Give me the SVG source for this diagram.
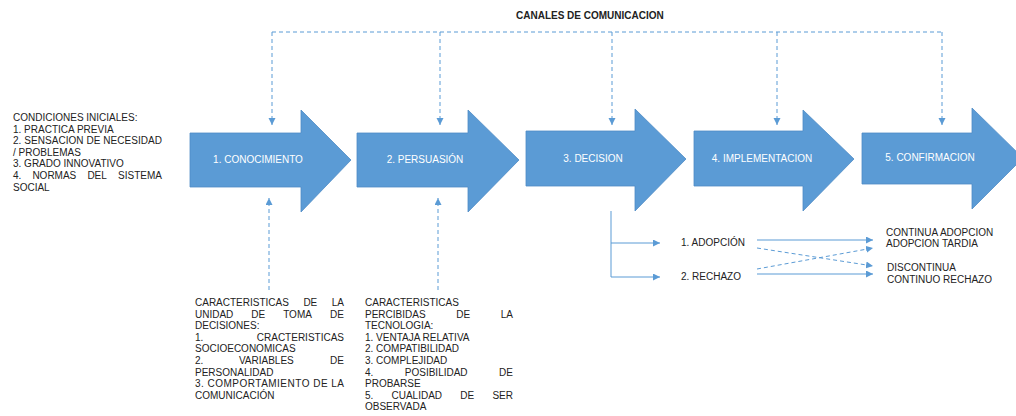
<svg xmlns="http://www.w3.org/2000/svg" width="1016" height="416" viewBox="0 0 1016 416">
<style>
text{font-family:"Liberation Sans",Arial,sans-serif;font-size:10px;fill:#222}
.lbl{fill:#fff;text-anchor:middle}
.ttl{font-weight:bold}
.e{text-anchor:end}
.arr{fill:#5b9bd5;stroke:#4f8cc5;stroke-width:0.8}
.d{fill:none;stroke:#5b9bd5;stroke-width:1;stroke-dasharray:4 3}
.s{fill:none;stroke:#5b9bd5;stroke-width:1}
</style>
<defs>
<marker id="ah" markerUnits="userSpaceOnUse" markerWidth="8" markerHeight="8" refX="7" refY="3.5" orient="auto">
<path d="M0,0 L7,3.5 L0,7 z" fill="#5b9bd5"/>
</marker>
</defs>
<rect width="1016" height="416" fill="#fff"/>

<text class="ttl" x="516" y="19">CANALES DE COMUNICACION</text>

<g id="n1"><path class="arr" d="M190,133 H301 V110 L351,160 L301,212 V187 H190 Z"/><text class="lbl" x="258" y="163">1. CONOCIMIENTO</text></g>
<g id="n2"><path class="arr" d="M357,133 H468 V110 L519,160 L468,212 V187 H357 Z"/><text class="lbl" x="425" y="163">2. PERSUASIÓN</text></g>
<g id="n3"><path class="arr" d="M526,131 H635 V109 L686,159 L635,211 V186 H526 Z"/><text class="lbl" x="593" y="162">3. DECISION</text></g>
<g id="n4"><path class="arr" d="M694,131 H803 V110 L854,159 L803,211 V186 H694 Z"/><text class="lbl" x="762" y="162">4. IMPLEMENTACION</text></g>
<g id="n5"><path class="arr" d="M862,133 H972 V108 L1023,158 L972,209 V184 H862 Z"/><text class="lbl" x="930" y="161">5. CONFIRMACION</text></g>

<g id="cond">
<text x="13" y="121">CONDICIONES INICIALES:</text>
<text x="13" y="132.6">1. PRACTICA PREVIA</text>
<text x="13" y="144.2" textLength="149" lengthAdjust="spacing">2. SENSACION DE NECESIDAD</text>
<text x="13" y="155.8">/ PROBLEMAS</text>
<text x="13" y="167.4">3. GRADO INNOVATIVO</text>
<text x="13" y="179">4.</text><text x="32.4" y="179">NORMAS</text><text x="87.4" y="179">DEL</text><text class="e" x="162" y="179">SISTEMA</text>
<text x="13" y="190.6">SOCIAL</text>
</g>

<g id="unidad">
<text x="195" y="306">CARACTERISTICAS</text><text x="303.4" y="306">DE</text><text class="e" x="344" y="306">LA</text>
<text x="195" y="317.6">UNIDAD</text><text x="251.3" y="317.6">DE</text><text x="283.2" y="317.6">TOMA</text><text class="e" x="344" y="317.6">DE</text>
<text x="195" y="329.2">DECISIONES:</text>
<text x="195" y="340.8">1.</text><text class="e" x="344" y="340.8">CRACTERISTICAS</text>
<text x="195" y="352.4">SOCIOECONOMICAS</text>
<text x="195" y="364">2.</text><text x="238.9" y="364">VARIABLES</text><text class="e" x="344" y="364">DE</text>
<text x="195" y="375.6">PERSONALIDAD</text>
<text x="195" y="387.2" textLength="149" lengthAdjust="spacing">3. COMPORTAMIENTO DE LA</text>
<text x="195" y="398.8">COMUNICACIÓN</text>
</g>

<g id="percibidas">
<text x="365" y="306">CARACTERISTICAS</text>
<text x="365" y="317.6">PERCIBIDAS</text><text x="456.2" y="317.6">DE</text><text class="e" x="513" y="317.6">LA</text>
<text x="365" y="329.2">TECNOLOGIA:</text>
<text x="365" y="340.8">1. VENTAJA RELATIVA</text>
<text x="365" y="352.4">2. COMPATIBILIDAD</text>
<text x="365" y="364">3. COMPLEJIDAD</text>
<text x="365" y="375.6">4.</text><text x="404.8" y="375.6">POSIBILIDAD</text><text class="e" x="513" y="375.6">DE</text>
<text x="365" y="387.2">PROBARSE</text>
<text x="365" y="398.8">5.</text><text x="391.5" y="398.8">CUALIDAD</text><text x="460.3" y="398.8">DE</text><text class="e" x="513" y="398.8">SER</text>
<text x="365" y="410.4">OBSERVADA</text>
</g>

<g id="outcomes">
<text x="681" y="246">1. ADOPCIÓN</text>
<text x="681" y="280">2. RECHAZO</text>
<text x="886" y="236">CONTINUA ADOPCION</text>
<text x="886" y="247">ADOPCION TARDIA</text>
<text x="887" y="271">DISCONTINUA</text>
<text x="887" y="283">CONTINUO RECHAZO</text>
</g>

<g id="connectors">
<path class="d" d="M272,32 H942"/>
<path class="d" d="M272,32 V125" marker-end="url(#ah)"/>
<path class="d" d="M440,32 V125" marker-end="url(#ah)"/>
<path class="d" d="M612,32 V125" marker-end="url(#ah)"/>
<path class="d" d="M777,32 V125" marker-end="url(#ah)"/>
<path class="d" d="M942,32 V125" marker-end="url(#ah)"/>
<path class="d" d="M269,290 V198" marker-end="url(#ah)"/>
<path class="d" d="M438,290 V198" marker-end="url(#ah)"/>
<path class="s" d="M611,211 V277"/>
<path class="s" d="M611,243 H660" marker-end="url(#ah)"/>
<path class="s" d="M611,277 H660" marker-end="url(#ah)"/>
<path class="s" d="M757,240 H873" marker-end="url(#ah)"/>
<path class="s" d="M757,274 H873" marker-end="url(#ah)"/>
<path class="d" d="M757,248 L873,266" marker-end="url(#ah)"/>
<path class="d" d="M757,269 L873,248" marker-end="url(#ah)"/>
</g>
</svg>
